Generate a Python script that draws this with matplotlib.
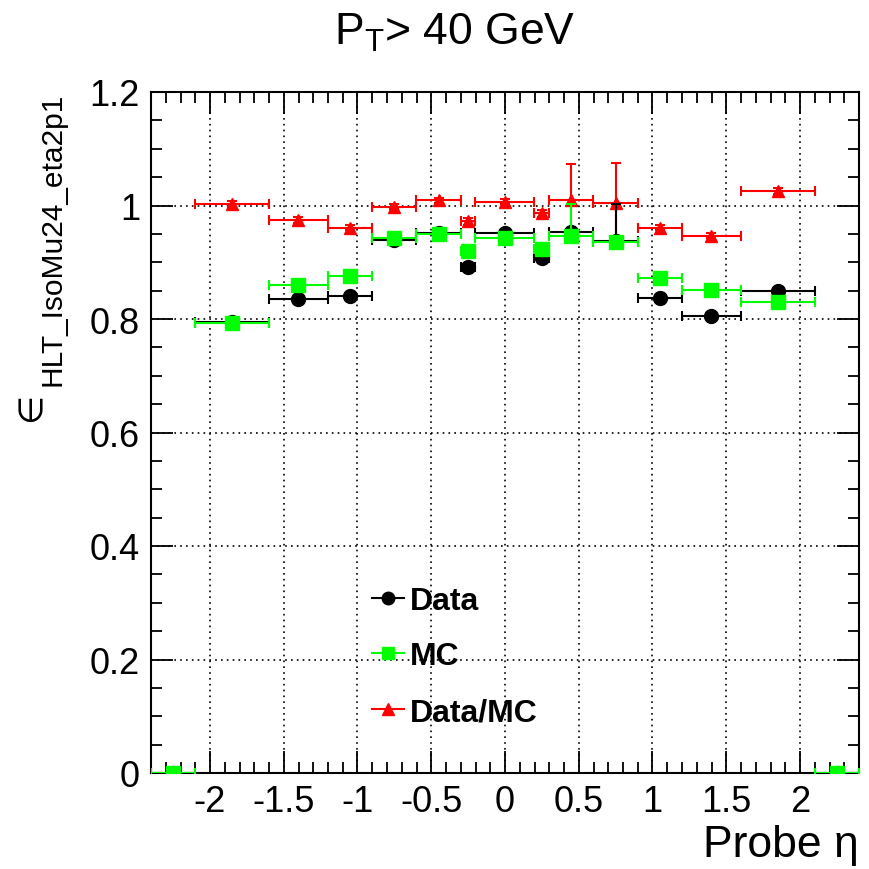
import matplotlib
matplotlib.use("Agg")
import matplotlib.pyplot as plt
from matplotlib.lines import Line2D
import numpy as np

plt.rcParams['font.family'] = ['Liberation Sans', 'DejaVu Sans']
plt.rcParams['mathtext.fontset'] = 'custom'
plt.rcParams['mathtext.rm'] = 'Liberation Sans'
plt.rcParams['mathtext.it'] = 'Liberation Sans'
plt.rcParams['mathtext.bf'] = 'Liberation Sans:bold'

# eta bin edges
bin_edges = [-2.4, -2.1, -1.6, -1.2, -0.9, -0.6, -0.3, -0.2, 0.2, 0.3, 0.6, 0.9, 1.2, 1.6, 2.1, 2.4]

# Data efficiency (per bin)
data_eff = [0.0, 0.795, 0.835, 0.840, 0.940, 0.952, 0.892, 0.952, 0.908, 0.954, 0.938, 0.837, 0.805, 0.850, 0.0]
data_err_lo = [0.0, 0.004, 0.004, 0.004, 0.004, 0.004, 0.005, 0.003, 0.005, 0.004, 0.005, 0.004, 0.004, 0.004, 0.0]
data_err_hi = [0.0, 0.004, 0.004, 0.004, 0.004, 0.004, 0.005, 0.003, 0.005, 0.004, 0.065, 0.004, 0.004, 0.004, 0.0]

# MC efficiency (per bin)
mc_eff = [0.0, 0.793, 0.860, 0.876, 0.943, 0.949, 0.920, 0.943, 0.924, 0.946, 0.935, 0.873, 0.851, 0.830, 0.0]
mc_err_lo = [0.0, 0.003, 0.003, 0.003, 0.003, 0.003, 0.004, 0.002, 0.004, 0.003, 0.004, 0.003, 0.003, 0.003, 0.0]
mc_err_hi = [0.0, 0.003, 0.003, 0.003, 0.003, 0.003, 0.004, 0.002, 0.004, 0.057, 0.004, 0.003, 0.003, 0.003, 0.0]

# Data/MC ratio (bins -2.1 .. 2.1)
ratio_val = [1.003, 0.975, 0.961, 0.998, 1.009, 0.972, 1.007, 0.986, 1.009, 1.005, 0.961, 0.947, 1.025]
ratio_err_lo = [0.005, 0.005, 0.005, 0.005, 0.005, 0.006, 0.004, 0.006, 0.064, 0.070, 0.005, 0.005, 0.005]
ratio_err_hi = [0.005, 0.005, 0.005, 0.005, 0.005, 0.006, 0.004, 0.006, 0.064, 0.070, 0.005, 0.005, 0.005]

x_ticks = [-2, -1.5, -1, -0.5, 0, 0.5, 1, 1.5, 2]
x_ticklabels = ['-2', '-1.5', '-1', '-0.5', '0', '0.5', '1', '1.5', '2']
y_ticks = [0, 0.2, 0.4, 0.6, 0.8, 1.0, 1.2]
y_ticklabels = ['0', '0.2', '0.4', '0.6', '0.8', '1', '1.2']

edges = np.array(bin_edges)
centers = 0.5 * (edges[:-1] + edges[1:])
halfw = 0.5 * (edges[1:] - edges[:-1])

fig = plt.figure(figsize=(8.69, 8.70), dpi=100)
ax = fig.add_axes([151/869, 1 - 774/870, (859-151)/869, (774-93)/870])

ebkw = dict(ls='none', elinewidth=1.5, capsize=3.5, capthick=1.5, clip_on=True)

# ratio first, then data, then MC (MC drawn on top)
ax.errorbar(centers[1:-1], ratio_val, xerr=halfw[1:-1], yerr=[ratio_err_lo, ratio_err_hi],
            marker='^', ms=9, color='red', mec='red', zorder=3, **ebkw)
ax.errorbar(centers, data_eff, xerr=halfw, yerr=[data_err_lo, data_err_hi],
            marker='o', ms=10, color='black', zorder=4, **ebkw)
ax.errorbar(centers, mc_eff, xerr=halfw, yerr=[mc_err_lo, mc_err_hi],
            marker='s', ms=10, color='#00ff00', mec='#00ff00', zorder=5, **ebkw)

ax.set_xlim(-2.4, 2.4)
ax.set_ylim(0, 1.2)
ax.set_xticks(x_ticks)
ax.set_xticklabels(x_ticklabels)
ax.set_yticks(y_ticks)
ax.set_yticklabels(y_ticklabels)
ax.set_xticks(np.arange(-2.4, 2.41, 0.1), minor=True)
ax.set_yticks(np.arange(0, 1.201, 0.05), minor=True)
ax.tick_params(which='both', direction='in', top=True, right=True, width=1.3, colors='black')
ax.tick_params(which='major', length=16, labelsize=26, pad=8)
ax.tick_params(which='minor', length=8)
ax.grid(True, which='major', color='black', linestyle=(0, (1, 2.5)), linewidth=1.2)
ax.set_axisbelow(True)
for s in ax.spines.values():
    s.set_linewidth(1.5)

# title
fig.text(455/869, 1 - 45/870, r'P$_{\mathrm{T}}$> 40 GeV', ha='center', va='baseline', fontsize=32)
# x label
fig.text(859/869, 1 - 857/870, 'Probe η', ha='right', va='baseline', fontsize=32)
# y label: epsilon symbol with subscript
fig.text(67/869, 1 - 93/870, 'HLT_IsoMu24_eta2p1', rotation=90,
         ha='right', va='top', fontsize=21.5)
fig.text(31/869, 1 - 407/870, '∈', rotation=90, ha='center', va='center',
         fontsize=24, family=['DejaVu Sans'])

handles = [
    Line2D([], [], color='black', marker='o', ms=9, lw=1.5),
    Line2D([], [], color='#00ff00', marker='s', ms=9, lw=1.5),
    Line2D([], [], color='red', marker='^', ms=9, lw=1.5),
]
ax.legend(handles, ['Data', 'MC', 'Data/MC'], loc='upper left', bbox_to_anchor=(0.294, 0.2935),
          frameon=False, borderaxespad=0, handlelength=1.0, handletextpad=0.19,
          labelspacing=0.8, prop={'weight': 'bold', 'size': 23})

fig.savefig('out.png', dpi=100)
